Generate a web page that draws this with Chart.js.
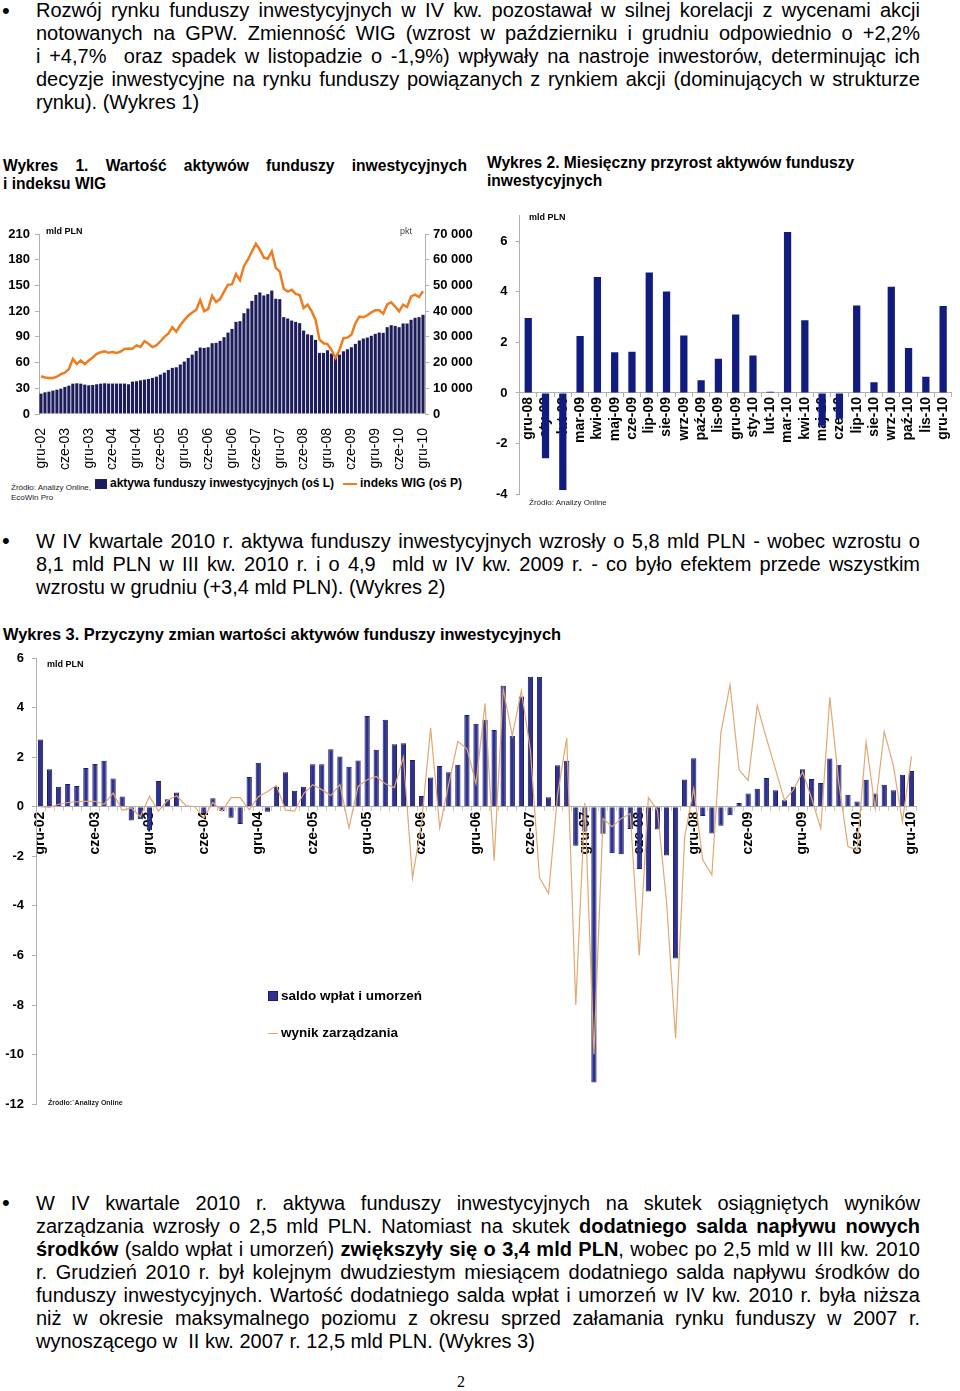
<!DOCTYPE html>
<html lang="pl">
<head>
<meta charset="utf-8">
<script src="https://cdn.jsdelivr.net/npm/chart.js@4.4.1/dist/chart.umd.min.js"></script>
<style>
body { margin:0; width:960px; height:1391px; position:relative; background:#fff; color:#000;
       font-family:"Liberation Sans", Arial, sans-serif; overflow:hidden; }
.para { position:absolute; left:36px; width:884px; font-size:20px; line-height:23px; }
.para div { text-align:justify; text-align-last:justify; }
.para div.last { text-align-last:left; }
.bullet { position:absolute; left:2px; font-size:22px; line-height:22px; }
.title { position:absolute; font-weight:bold; font-size:15.6px; line-height:18px; }
.title div { text-align:justify; text-align-last:justify; }
.title div.last { text-align-last:left; }
.small { position:absolute; font-size:9px; font-weight:bold; }
.src { position:absolute; font-size:8px; line-height:10px; color:#222; }
.leg { position:absolute; font-weight:bold; font-size:12px; white-space:nowrap; }
.sw { display:inline-block; vertical-align:middle; margin-right:3px; }
canvas { position:absolute; }
</style>
</head>
<body>

<div class="bullet" style="top:0px">•</div>
<div class="para" style="top:-1px">
  <div>Rozwój rynku funduszy inwestycyjnych w IV kw. pozostawał w silnej korelacji z wycenami akcji</div>
  <div>notowanych na GPW. Zmienność WIG (wzrost w październiku i grudniu odpowiednio o +2,2%</div>
  <div>i +4,7%&nbsp; oraz spadek w listopadzie o -1,9%) wpływały na nastroje inwestorów, determinując ich</div>
  <div>decyzje inwestycyjne na rynku funduszy powiązanych z rynkiem akcji (dominujących w strukturze</div>
  <div class="last">rynku). (Wykres 1)</div>
</div>

<div class="title" style="left:3px; top:157px; width:464px">
  <div>Wykres 1. Wartość aktywów funduszy inwestycyjnych</div>
  <div class="last">i indeksu WIG</div>
</div>
<div class="title" style="left:487px; top:154px; width:420px">
  <div class="last">Wykres 2. Miesięczny przyrost aktywów funduszy</div>
  <div class="last">inwestycyjnych</div>
</div>

<canvas id="c1" width="480" height="255" style="left:0; top:220px"></canvas>
<div class="small" style="left:46px; top:226px">mld PLN</div>
<div class="small" style="left:400px; top:226px; font-weight:normal; color:#444">pkt</div>
<div class="src" style="left:11px; top:483px">Źródło: Analizy Online,<br>EcoWin Pro</div>
<div class="leg" style="left:95px; top:476px; font-size:12px"><span class="sw" style="width:12px;height:10px;background:#1e1d5c"></span>aktywa funduszy inwestycyjnych (oś L)</div>
<div class="leg" style="left:343px; top:476px; font-size:12px"><span class="sw" style="width:14px;height:2px;background:#ee7d22"></span>indeks WIG (oś P)</div>

<canvas id="c2" width="480" height="310" style="left:480px; top:200px"></canvas>
<div class="small" style="left:529px; top:212px">mld PLN</div>
<div class="src" style="left:529px; top:498px">Źródło: Analizy Online</div>

<div class="bullet" style="top:530px">•</div>
<div class="para" style="top:530px">
  <div>W IV kwartale 2010 r. aktywa funduszy inwestycyjnych wzrosły o 5,8 mld PLN - wobec wzrostu o</div>
  <div>8,1 mld PLN w III kw. 2010 r. i o 4,9&nbsp; mld w IV kw. 2009 r. - co było efektem przede wszystkim</div>
  <div class="last">wzrostu w grudniu (+3,4 mld PLN). (Wykres 2)</div>
</div>

<div class="title" style="left:3px; top:625px; width:700px; font-size:16.4px">
  <div class="last">Wykres 3. Przyczyny zmian wartości aktywów funduszy inwestycyjnych</div>
</div>

<canvas id="c3" width="960" height="480" style="left:0; top:640px"></canvas>
<div class="small" style="left:47px; top:659px">mld PLN</div>
<div class="src" style="left:48px; top:1098px; font-size:7px; font-weight:bold">Źródło:´Analizy Online</div>
<div class="leg" style="left:268px; top:988px; font-size:13.5px"><span class="sw" style="width:10px;height:10px;background:#2f3190;border:1px solid #1b1b60;box-sizing:border-box"></span>saldo wpłat i umorzeń</div>
<div class="leg" style="left:268px; top:1025px; font-size:13.5px"><span class="sw" style="width:10px;height:1px;background:#e0a872"></span>wynik zarządzania</div>

<div class="bullet" style="top:1192px">•</div>
<div class="para" style="top:1192px">
  <div>W&nbsp; IV&nbsp; kwartale&nbsp; 2010&nbsp; r.&nbsp; aktywa&nbsp; funduszy&nbsp; inwestycyjnych&nbsp; na&nbsp; skutek&nbsp; osiągniętych&nbsp; wyników</div>
  <div>zarządzania wzrosły o 2,5 mld PLN. Natomiast na skutek <b>dodatniego salda napływu nowych</b></div>
  <div><b>środków</b> (saldo wpłat i umorzeń) <b>zwiększyły się o 3,4 mld PLN</b>, wobec po 2,5 mld w III kw. 2010</div>
  <div>r. Grudzień 2010 r. był kolejnym dwudziestym miesiącem dodatniego salda napływu środków do</div>
  <div>funduszy inwestycyjnych. Wartość dodatniego salda wpłat i umorzeń w IV kw. 2010 r. była niższa</div>
  <div>niż w okresie maksymalnego poziomu z okresu sprzed załamania rynku funduszy w 2007 r.</div>
  <div class="last">wynoszącego w&nbsp; II kw. 2007 r. 12,5 mld PLN. (Wykres 3)</div>
</div>

<div style="position:absolute; left:457px; top:1373px; font-family:'Liberation Serif', serif; font-size:16px">2</div>

<script>
// months gru-02 .. gru-10, labels shown every 6 months
var monthNames = ["sty","lut","mar","kwi","maj","cze","lip","sie","wrz","paź","lis","gru"];
var months = ["gru-02"];
for (var y = 3; y <= 10; y++) {
  for (var m = 0; m < 12; m++) months.push(monthNames[m] + "-" + (y < 10 ? "0" + y : y));
}

// Wykres 1: aktywa funduszy (mld PLN) and WIG (pkt)
var assets = [23.8,25.3,26.1,27.3,28.4,29.6,31.6,33.1,35.4,35.8,
  35.4,34.3,33.5,33.9,34.7,35.4,35.8,35.5,35.5,35.5,
  35.5,35.5,34.7,37.8,38.2,39.3,40.1,40.9,42.1,43.6,
  46,48.3,51.4,53.8,54.5,57.7,61.2,65.4,69.3,73.6,
  77.5,77.1,77.9,82.6,83,85.3,89.6,95,99.3,107.5,
  108.3,117.6,123,132,139,141.8,138.3,139.9,144,134.4,
  134,113,111.4,109,107.5,106,97.4,93,92,86.5,
  71.3,71.3,74.4,70.5,65.8,69.3,73.2,75.6,77.9,81.8,
  85.7,88,89.2,91.2,93.5,95,94.7,101.3,103.6,102.8,
  101.3,105.6,105.6,109.9,112.2,113,115.7];
var wig = [14700,14200,14000,14000,14500,15500,16100,17400,21400,19500,
  20800,19400,20800,22000,23400,24000,24400,23800,24100,23700,
  24300,25300,25500,25400,26700,26100,28300,27300,26000,26700,
  28200,30000,31200,33800,32000,34500,36500,38200,39500,40500,
  44300,40000,40800,46000,43600,44700,47600,50300,50400,54400,
  52000,57500,60000,63200,66200,63900,60800,60400,63200,56800,
  55400,48700,47600,48300,46700,46300,41200,42500,40000,36600,
  28900,27500,27200,24900,21800,24900,29500,29700,30800,35300,
  37900,37600,38400,39500,40300,40300,39000,42600,43400,41800,
  39900,42500,41600,45700,46400,45500,47700];

// Wykres 2: miesięczny przyrost aktywów (mld PLN)
var months2 = ["gru-08","sty-09","lut-09","mar-09","kwi-09","maj-09","cze-09","lip-09","sie-09","wrz-09",
  "paź-09","lis-09","gru-09","sty-10","lut-10","mar-10","kwi-10","maj-10","cze-10","lip-10",
  "sie-10","wrz-10","paź-10","lis-10","gru-10"];
var growth = [2.96,-2.58,-3.83,2.25,4.58,1.61,1.63,4.76,4.01,2.27,
  0.5,1.35,3.1,1.48,0.05,6.36,2.87,-1.3,-1.02,3.46,
  0.42,4.2,1.78,0.64,3.44];

// Wykres 3: saldo wpłat i umorzeń, wynik zarządzania (mld PLN)
var flows = [2.71,1.51,0.81,0.92,0.84,1.56,1.72,1.85,1.14,0.41,
  -0.56,-0.5,-0.95,1.04,0.3,0.57,0.02,-0.02,-0.27,0.34,
  -0.17,-0.44,-0.7,1.2,1.77,-0.2,0.8,1.39,0.64,0.81,
  1.71,1.71,2.32,2.03,1.61,1.87,3.66,2.3,3.51,2.52,
  2.56,1.89,0.43,1.18,1.64,1.39,1.69,3.7,3.35,3.51,
  3.1,4.88,2.86,4.45,5.24,5.24,0.38,1.67,1.85,-1.57,
  -1.0,-11.12,-1.09,-1.88,-1.92,-0.9,-2.51,-3.42,-0.92,-1.97,
  -6.12,1.1,1.96,-0.37,-1.08,-0.77,-0.34,0.15,0.53,0.73,
  1.16,0.66,0.26,0.81,1.51,1.12,0.96,1.95,1.69,0.48,
  0.21,1.09,0.53,0.89,0.66,1.29,1.44];
var mgmt = [0,-0.03,0.1,0.17,0.2,0.22,0.22,0.1,0.55,-0.14,
  -0.05,-0.4,0.42,-0.18,0.26,0.44,0.05,0,-0.45,0.17,
  -0.18,0.37,0.37,-0.12,0.4,0.6,0.86,-0.14,-0.18,0.53,
  0.89,0.69,0.45,0.89,-0.85,0.82,1.09,1.22,0.93,0.77,
  2.0,-2.88,-0.64,3.17,-0.85,0.93,2.64,2.34,0.93,4.17,
  -2.18,4.75,2.87,4.68,2.27,-2.86,-3.5,0.5,2.78,-8.0,
  0.15,-9.98,-0.48,-0.81,-0.48,-0.27,-6.0,0.37,-0.14,-3.82,
  -9.35,-1.21,0.73,-2.15,-2.75,3.0,4.92,1.49,1.06,4.08,
  2.78,1.53,0.26,0.69,1.4,0.33,-0.88,4.41,0.93,-1.61,
  -1.75,2.61,-0.07,3.03,1.67,-0.61,2.03];

var font = "'Liberation Sans', Arial, sans-serif";
Chart.defaults.font.family = font;
Chart.defaults.color = "#000";
var axisGray = "#b0b0b0";
var every6 = function(v, i) { return i % 6 === 0 ? this.getLabelForValue(v) : ""; };

new Chart(document.getElementById("c1"), {
  type: "bar",
  data: {
    labels: months,
    datasets: [
      { type: "line", label: "indeks WIG (oś P)", data: wig, yAxisID: "y1",
        borderColor: "#ee7d22", borderWidth: 2.5, pointRadius: 0, order: 0 },
      { label: "aktywa funduszy inwestycyjnych (oś L)", data: assets, yAxisID: "y",
        backgroundColor: "#1e1d5c", barPercentage: 0.78, categoryPercentage: 1, order: 1 }
    ]
  },
  options: {
    responsive: false, animation: false,
    layout: { padding: { top: 14 } },
    plugins: { legend: { display: false }, tooltip: { enabled: false } },
    scales: {
      x: {
        grid: { display: false }, border: { display: false },
        ticks: { autoSkip: false, minRotation: 90, maxRotation: 90, padding: 6,
                 font: { size: 14 }, callback: every6 },
        afterFit: function(s) { s.height = 61; }
      },
      y: {
        min: 0, max: 210,
        ticks: { stepSize: 30, font: { size: 13, weight: "bold" }, padding: 5 },
        grid: { drawOnChartArea: false, tickLength: 4, color: axisGray },
        border: { color: axisGray },
        afterFit: function(s) { s.width = 39; }
      },
      y1: {
        position: "right", min: 0, max: 70000,
        ticks: { stepSize: 10000, font: { size: 13, weight: "bold" }, padding: 4,
                 callback: function(v) { return v === 0 ? "0" : (v / 1000) + " 000"; } },
        grid: { drawOnChartArea: false, tickLength: 4, color: axisGray },
        border: { color: axisGray },
        afterFit: function(s) { s.width = 55; }
      }
    }
  }
});

new Chart(document.getElementById("c2"), {
  type: "bar",
  data: {
    labels: months2,
    datasets: [{ label: "przyrost aktywów", data: growth, backgroundColor: "#111c7e",
                 barPercentage: 0.42, categoryPercentage: 1 }]
  },
  options: {
    responsive: false, animation: false,
    layout: { padding: { top: 13, bottom: 10, right: 3 } },
    plugins: { legend: { display: false }, tooltip: { enabled: false } },
    scales: {
      x: {
        position: { y: 0 },
        grid: { drawOnChartArea: false, tickLength: 4, color: axisGray },
        border: { color: axisGray },
        ticks: { autoSkip: false, minRotation: 90, maxRotation: 90, padding: 0,
                 font: { size: 14, weight: "bold" } }
      },
      y: {
        min: -4, max: 7,
        ticks: { stepSize: 2, font: { size: 13, weight: "bold" }, padding: 8 },
        afterBuildTicks: function(s) { s.ticks = s.ticks.filter(function(t) { return t.value % 2 === 0; }); },
        grid: { drawOnChartArea: false, tickLength: 4, color: axisGray },
        border: { color: axisGray },
        afterFit: function(s) { s.width = 39.6; }
      }
    }
  }
});

new Chart(document.getElementById("c3"), {
  type: "bar",
  data: {
    labels: months,
    datasets: [
      { type: "line", label: "wynik zarządzania", data: mgmt, borderColor: "#e0a872",
        borderWidth: 1.2, pointRadius: 0, order: 0 },
      { label: "saldo wpłat i umorzeń", data: flows, backgroundColor: "#2f3190",
        borderColor: "#1b1b60", borderWidth: 1, barPercentage: 0.58, categoryPercentage: 1, order: 1 }
    ]
  },
  options: {
    responsive: false, animation: false,
    layout: { padding: { top: 18, bottom: 15, right: 44 } },
    plugins: { legend: { display: false }, tooltip: { enabled: false } },
    scales: {
      x: {
        position: { y: 0 },
        grid: { drawOnChartArea: false, tickLength: 4, color: "#c8c8c8" },
        border: { color: axisGray },
        ticks: { autoSkip: false, minRotation: 90, maxRotation: 90, padding: 1,
                 font: { size: 14, weight: "bold" }, callback: every6 }
      },
      y: {
        min: -12, max: 6,
        ticks: { stepSize: 2, font: { size: 13, weight: "bold" }, padding: 8 },
        grid: { drawOnChartArea: false, tickLength: 4, color: axisGray },
        border: { color: axisGray },
        afterFit: function(s) { s.width = 36; }
      }
    }
  }
});
</script>
</body>
</html>
